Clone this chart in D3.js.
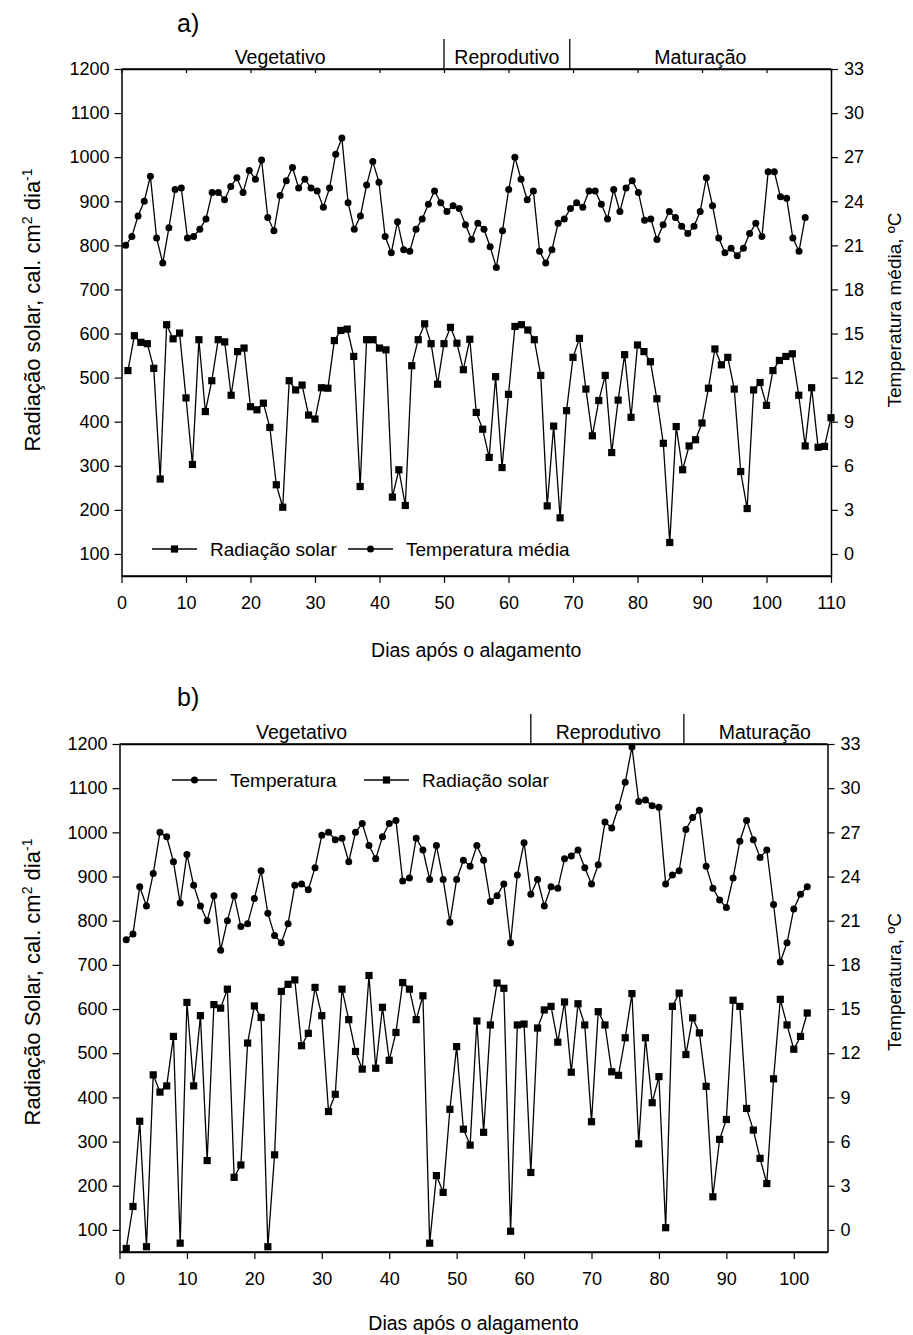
<!DOCTYPE html>
<html lang="pt">
<head>
<meta charset="UTF-8">
<title>Radiação solar e temperatura</title>
<script src="https://d3js.org/d3.v7.min.js"></script>
<style>
  body { margin: 0; background: #fff; }
  svg text { font-family: "Liberation Sans", Arial, Helvetica, sans-serif; fill: #000; }
</style>
</head>
<body>
<svg width="913" height="1335"></svg>
<script>
// ---- a) radiação solar (cal cm-2 dia-1), dias 1..110
var radiacaoA = [
  516, 595, 580, 577, 521, 270, 620, 588, 601, 454,
  303, 586, 423, 493, 586, 581, 460, 559, 567, 434,
  427, 442, 387, 257, 206, 493, 472, 483, 415, 406,
  477, 476, 584, 607, 610, 548, 253, 586, 586, 567,
  563, 229, 291, 210, 527, 586, 622, 577, 485, 577,
  614, 578, 518, 587, 421, 383, 319, 502, 296, 462,
  616, 620, 608, 586, 505, 209, 390, 182, 425, 546,
  589, 474, 368, 448, 505, 330, 449, 552, 410, 574,
  559, 536, 452, 351, 126, 389, 291, 345, 359, 397,
  476, 565, 529, 546, 474, 287, 203, 472, 489, 437,
  516, 539, 548, 554, 460, 345, 477, 342, 344, 409
];

// ---- a) temperatura média (oC)
var temperaturaA = [
  21.0, 21.6, 23.0, 24.0, 25.7, 21.5, 19.8, 22.2, 24.8, 24.9,
  21.5, 21.6, 22.1, 22.8, 24.6, 24.6, 24.1, 25.0, 25.6, 24.6,
  26.1, 25.5, 26.8, 22.9, 22.0, 24.4, 25.4, 26.3, 24.9, 25.5,
  24.9, 24.7, 23.6, 24.9, 27.2, 28.3, 23.9, 22.1, 23.0, 25.1,
  26.7, 25.3, 21.6, 20.5, 22.6, 20.7, 20.6, 22.1, 22.8, 23.8,
  24.7, 23.9, 23.3, 23.7, 23.5, 22.4, 21.4, 22.5, 22.1, 20.9,
  19.5, 22.0, 24.8, 27.0, 25.5, 24.1, 24.7, 20.6, 19.8, 20.7,
  22.5, 22.8, 23.5, 23.9, 23.6, 24.7, 24.7, 23.8, 22.8, 24.8,
  23.3, 24.9, 25.4, 24.6, 22.7, 22.8, 21.4, 22.4, 23.3, 22.9,
  22.3, 21.8, 22.3, 23.3, 25.6, 23.7, 21.5, 20.5, 20.8, 20.3,
  20.8, 21.8, 22.5, 21.6, 26.0, 26.0, 24.3, 24.2, 21.5, 20.6,
  22.9
];

// ---- b) radiação solar, dias 1..102
var radiacaoB = [
   58, 153, 346,  62, 451, 412, 426, 538,  70, 615,
  426, 585, 257, 610, 602, 645, 219, 247, 523, 607,
  581,  62, 270, 640, 656, 666, 517, 545, 649, 585,
  368, 407, 645, 576, 504, 464, 676, 466, 604, 484,
  547, 660, 645, 576, 630,  70, 223, 185, 373, 515,
  328, 292, 573, 321, 564, 659, 647,  97, 564, 566,
  230, 557, 598, 606, 525, 616, 457, 612, 564, 345,
  594, 564, 458, 450, 535, 635, 295, 535, 388, 447,
  105, 606, 636, 497, 580, 546, 425, 175, 305, 350,
  620, 606, 375, 326, 262, 205, 442, 622, 564, 509,
  538, 591
];

// ---- b) temperatura, dias 1..102
var temperaturaB = [
  19.7, 20.1, 23.3, 22.0, 24.2, 27.0, 26.7, 25.0, 22.2, 25.5,
  23.4, 22.0, 21.0, 22.7, 19.0, 21.0, 22.7, 20.6, 20.8, 22.5,
  24.4, 21.5, 20.0, 19.5, 20.8, 23.4, 23.5, 23.1, 24.6, 26.8,
  27.0, 26.5, 26.6, 25.0, 27.0, 27.6, 26.1, 25.2, 26.7, 27.6,
  27.8, 23.7, 23.9, 26.6, 25.8, 23.8, 26.1, 23.8, 20.9, 23.8,
  25.1, 24.7, 26.1, 25.1, 22.3, 22.7, 23.5, 19.5, 24.1, 26.3,
  22.8, 23.8, 22.0, 23.3, 23.2, 25.2, 25.4, 25.8, 24.6, 23.5,
  24.8, 27.7, 27.3, 28.7, 30.4, 32.8, 29.1, 29.2, 28.8, 28.7,
  23.5, 24.1, 24.4, 27.2, 28.0, 28.5, 24.7, 23.2, 22.4, 21.9,
  23.9, 26.4, 27.8, 26.5, 25.3, 25.8, 22.1, 18.2, 19.5, 21.8,
  22.8, 23.3
];

// fases (limites em dias)
var fases = ["Vegetativo", "Reprodutivo", "Maturação"];
var limitesFaseA = [50, 69.5];
var limitesFaseB = [61, 83.7];

var ticksRad = d3.range(100, 1201, 100);
var ticksTemp = d3.range(0, 34, 3);

var svg = d3.select("svg");

function drawPanel(p) {
  var g = svg.append("g");

  var x = d3.scaleLinear().domain([0, p.xMax]).range([p.left, p.right]);
  var y = d3.scaleLinear().domain([50, 1200]).range([p.bottom, p.top]);
  var yT = d3.scaleLinear().domain([-1.5, 33]).range([p.bottom, p.top]);

  // temperature x: either the day axis or its own scale
  var tx;
  if (p.tempSpan) {
    var xT = d3.scaleLinear().domain([1, p.temp.length]).range([x(p.tempSpan[0]), x(p.tempSpan[1])]);
    tx = function(i) { return xT(i + 1); };
  } else {
    tx = function(i) { return x(i + 1); };
  }

  // axes
  var axL = g.append("g").attr("transform", "translate(" + p.left + ",0)")
    .call(d3.axisLeft(y).tickValues(ticksRad).tickFormat(d3.format("d")).tickSize(7).tickSizeOuter(0).tickPadding(5));
  var axR = g.append("g").attr("transform", "translate(" + p.right + ",0)")
    .call(d3.axisRight(yT).tickValues(ticksTemp).tickFormat(d3.format("d")).tickSize(7).tickSizeOuter(0).tickPadding(6));
  var axB = g.append("g").attr("transform", "translate(0," + p.bottom + ")")
    .call(d3.axisBottom(x).tickValues(d3.range(0, p.xTickMax + 1, 10)).tickFormat(d3.format("d")).tickSize(7).tickSizeOuter(0).tickPadding(13));
  var axT = g.append("g").attr("transform", "translate(0," + p.top + ")")
    .call(d3.axisTop(x).tickValues(p.topTicks ? d3.range(0, p.xTickMax + 1, 10) : []).tickSize(-4).tickSizeOuter(0).tickFormat(""));

  [axL, axR, axB, axT].forEach(function(a) {
    a.selectAll("path").attr("stroke", "#000").attr("stroke-width", 1.5);
    a.selectAll("line").attr("stroke", "#000").attr("stroke-width", 1.2);
    a.selectAll("text").attr("font-size", 18).attr("fill", "#000")
      .style("font-family", '"Liberation Sans", Arial, sans-serif');
  });
  g.append("line").attr("x1", p.left).attr("x2", p.right).attr("y1", p.top).attr("y2", p.top)
    .attr("stroke", "#000").attr("stroke-width", 1.5);
  g.append("line").attr("x1", p.left).attr("x2", p.right).attr("y1", p.bottom).attr("y2", p.bottom)
    .attr("stroke", "#000").attr("stroke-width", 1.5);

  // phase separators and labels
  p.limites.forEach(function(d) {
    g.append("line").attr("x1", x(d)).attr("x2", x(d))
      .attr("y1", p.top).attr("y2", p.top - 30)
      .attr("stroke", "#000").attr("stroke-width", 1.3);
  });
  fases.forEach(function(f, i) {
    g.append("text").attr("x", x(p.faseCentros[i])).attr("y", p.top - 5)
      .attr("text-anchor", "middle").attr("font-size", 19.5).text(f);
  });

  // radiation
  var lineR = d3.line().x(function(d, i) { return x(i + 1); }).y(function(d) { return y(d); });
  g.append("path").datum(p.rad).attr("d", lineR)
    .attr("fill", "none").attr("stroke", "#000").attr("stroke-width", 1.3);
  g.selectAll(".sq").data(p.rad).enter().append("rect")
    .attr("x", function(d, i) { return x(i + 1) - 3.6; })
    .attr("y", function(d) { return y(d) - 3.6; })
    .attr("width", 7.2).attr("height", 7.2).attr("fill", "#000");

  // temperature
  var lineT = d3.line().x(function(d, i) { return tx(i); }).y(function(d) { return yT(d); });
  g.append("path").datum(p.temp).attr("d", lineT)
    .attr("fill", "none").attr("stroke", "#000").attr("stroke-width", 1.3);
  g.selectAll(".ci").data(p.temp).enter().append("circle")
    .attr("cx", function(d, i) { return tx(i); })
    .attr("cy", function(d) { return yT(d); })
    .attr("r", 3.5).attr("fill", "#000");

  // legend
  p.legend.forEach(function(l) {
    g.append("line").attr("x1", l.x).attr("x2", l.x + 45).attr("y1", l.y).attr("y2", l.y)
      .attr("stroke", "#000").attr("stroke-width", 1.3);
    if (l.shape === "square") {
      g.append("rect").attr("x", l.x + 22.5 - 3.6).attr("y", l.y - 3.6)
        .attr("width", 7.2).attr("height", 7.2).attr("fill", "#000");
    } else {
      g.append("circle").attr("cx", l.x + 22.5).attr("cy", l.y).attr("r", 3.5).attr("fill", "#000");
    }
    g.append("text").attr("x", l.x + 58).attr("y", l.y + 7)
      .attr("font-size", 19).text(l.label);
  });

  // panel letter
  g.append("text").attr("x", p.letterX).attr("y", p.letterY)
    .attr("font-size", 25).text(p.letter);

  // x title
  g.append("text").attr("x", (p.left + p.right) / 2).attr("y", p.xTitleY)
    .attr("text-anchor", "middle").attr("font-size", 19.5).text("Dias após o alagamento");

  // left title with superscripts
  var tl = g.append("text")
    .attr("transform", "translate(40," + p.yTitleY + ") rotate(-90)")
    .attr("text-anchor", "middle").attr("font-size", 22);
  tl.append("tspan").text(p.leftTitle + ", cal. cm");
  tl.append("tspan").attr("dy", -8).attr("font-size", 14).text("2");
  tl.append("tspan").attr("dy", 8).text(" dia");
  tl.append("tspan").attr("dy", -8).attr("font-size", 14).text("-1");

  // right title
  g.append("text")
    .attr("transform", "translate(901," + p.yTitleY + ") rotate(-90)")
    .attr("text-anchor", "middle").attr("font-size", 19).text(p.rightTitle);
}

drawPanel({
  left: 121.5, right: 831, top: 69, bottom: 576,
  xMax: 110, xTickMax: 110, topTicks: true,
  rad: radiacaoA, temp: temperaturaA, tempSpan: [0.65, 106],
  limites: limitesFaseA, faseCentros: [24.6, 59.75, 89.75],
  legend: [
    { x: 152, y: 549, shape: "square", label: "Radiação solar" },
    { x: 348, y: 549, shape: "circle", label: "Temperatura média" }
  ],
  letter: "a)", letterX: 177, letterY: 32,
  xTitleY: 657, yTitleY: 310,
  leftTitle: "Radiação solar", rightTitle: "Temperatura média, ºC"
});

drawPanel({
  left: 119.5, right: 827.5, top: 744, bottom: 1252,
  xMax: 105, xTickMax: 100, topTicks: false,
  rad: radiacaoB, temp: temperaturaB,
  limites: limitesFaseB, faseCentros: [27, 72.5, 95.7],
  legend: [
    { x: 172, y: 780, shape: "circle", label: "Temperatura" },
    { x: 364, y: 780, shape: "square", label: "Radiação solar" }
  ],
  letter: "b)", letterX: 177, letterY: 706,
  xTitleY: 1330, yTitleY: 982,
  leftTitle: "Radiação Solar", rightTitle: "Temperatura, ºC"
});
</script>
</body>
</html>
